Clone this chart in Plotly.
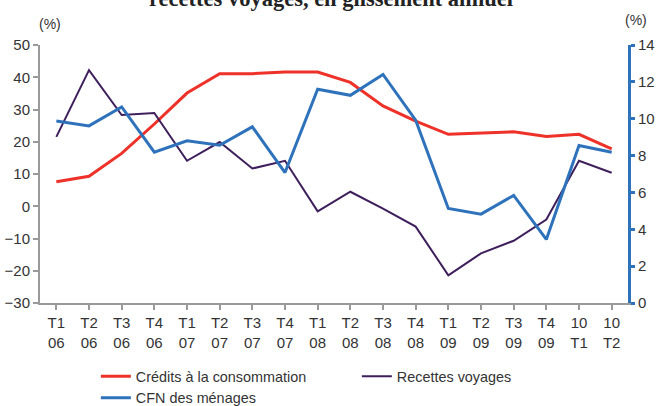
import plotly.graph_objects as go

categories = ["T1<br>06", "T2<br>06", "T3<br>06", "T4<br>06",
              "T1<br>07", "T2<br>07", "T3<br>07", "T4<br>07",
              "T1<br>08", "T2<br>08", "T3<br>08", "T4<br>08",
              "T1<br>09", "T2<br>09", "T3<br>09", "T4<br>09",
              "10<br>T1", "10<br>T2"]

credits_conso = [7.6, 9.3, 16.4, 25.5, 35.1, 41.1, 41.1, 41.6, 41.6, 38.4,
                 31.1, 26.4, 22.3, 22.6, 23.1, 21.6, 22.3, 17.8]
recettes_voyages = [21.5, 42.2, 28.3, 28.9, 14.1, 19.9, 11.7, 14.1, -1.6, 4.5,
                    -0.7, -6.3, -21.4, -14.6, -10.7, -4.1, 14.1, 10.4]
cfn_menages = [9.88, 9.61, 10.64, 8.18, 8.80, 8.56, 9.56, 7.08, 11.6, 11.27,
               12.40, 9.92, 5.13, 4.82, 5.84, 3.45, 8.55, 8.18]

left_ticks = [-30, -20, -10, 0, 10, 20, 30, 40, 50]
right_ticks = [0, 2, 4, 6, 8, 10, 12, 14]

RED = "#ee3129"
BLUE = "#2f72bc"
PURPLE = "#3e1f5c"
FONT = "Liberation Sans, Arial, sans-serif"

x = list(range(len(categories)))

fig = go.Figure()
fig.add_trace(go.Scatter(x=x, y=credits_conso, name="Crédits à la consommation",
                         mode="lines", line=dict(color=RED, width=3)))
fig.add_trace(go.Scatter(x=x, y=recettes_voyages, name="Recettes voyages",
                         mode="lines", line=dict(color=PURPLE, width=2)))
fig.add_trace(go.Scatter(x=x, y=cfn_menages, name="CFN des ménages",
                         mode="lines", line=dict(color=BLUE, width=3), yaxis="y2"))

fig.update_layout(
    width=657, height=406,
    margin=dict(l=40, r=29, t=45, b=103, autoexpand=False),
    paper_bgcolor="white", plot_bgcolor="white",
    font=dict(family=FONT, size=15, color="#333333"),
    showlegend=True,
    legend=dict(orientation="h", x=0.095, xanchor="left", y=-0.222, yanchor="top",
                entrywidth=216, entrywidthmode="pixels", tracegroupgap=0,
                font=dict(size=14.4, color="#333333"), itemwidth=30,
                traceorder="normal", bgcolor="rgba(0,0,0,0)"),
    xaxis=dict(range=[-0.5, len(categories) - 0.5], tickmode="array",
               tickvals=x, ticktext=categories, showgrid=False, zeroline=False,
               showline=True, linecolor="#9a9a9a", linewidth=2, automargin=False,
               ticks="outside", ticklen=5, tickcolor="#9a9a9a", tickwidth=2,
               tickson="boundaries", tickfont=dict(size=15, color="#333333")),
    yaxis=dict(range=[-30, 50], tickvals=left_ticks, showgrid=False, zeroline=False,
               showline=True, linecolor="#9a9a9a", linewidth=2, automargin=False,
               ticks="outside", ticklen=5, tickcolor="#9a9a9a", tickwidth=2,
               tickfont=dict(size=15, color="#333333")),
    yaxis2=dict(range=[0, 14], tickvals=right_ticks, overlaying="y", side="right",
                showgrid=False, zeroline=False, showline=True, linecolor=BLUE,
                linewidth=3, ticks="outside", ticklen=4, tickcolor=BLUE, tickwidth=3,
                automargin=False, tickfont=dict(size=15, color="#333333")),
    annotations=[
        dict(text="(%)", xref="paper", yref="paper", x=-0.005, y=1.0, yshift=21,
             xanchor="left", yanchor="middle", showarrow=False,
             font=dict(size=14, color="#333333")),
        dict(text="(%)", xref="paper", yref="paper", x=0.991, y=1.0, yshift=25,
             xanchor="left", yanchor="middle", showarrow=False,
             font=dict(size=14, color="#333333")),
        dict(text="<b>recettes voyages, en glissement annuel</b>", xref="paper",
             yref="paper", x=0.495, y=1.0, yshift=47, xanchor="center",
             yanchor="middle", showarrow=False,
             font=dict(size=22.5, family="Liberation Serif, serif", color="#222222")),
    ],
)

fig.write_html("out.html", config={"displayModeBar": False},
               post_script="document.body.style.margin='0';")
